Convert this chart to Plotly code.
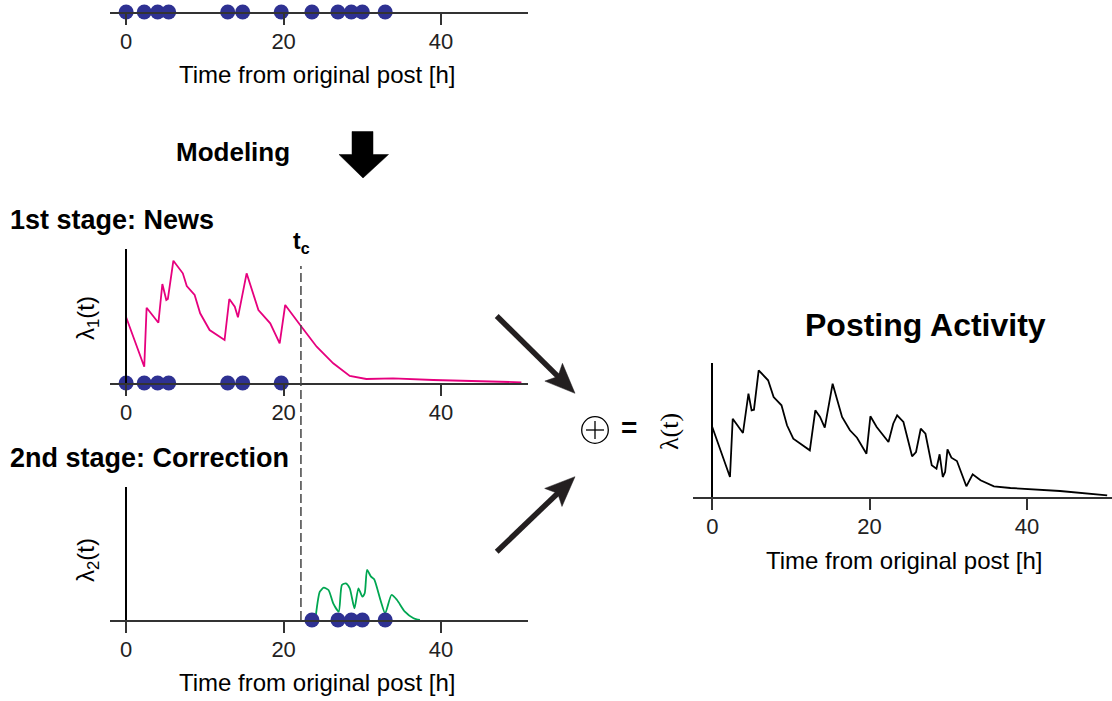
import plotly.graph_objects as go

W, H = 1112, 701

# ---------------- data ----------------
event_times = [0.0, 2.3, 4.0, 5.4, 12.9, 14.8, 19.7, 23.6, 26.9, 28.6, 30.0, 32.9]
t_c = 22.2
tick_vals = [0, 20, 40]
tick_text = ["0", "20", "40"]

lambda1_t = [0.0, 2.3, 2.6, 4.1, 4.6, 5.1, 5.3, 6.0, 7.2, 7.7, 8.7, 9.4, 10.6, 12.5, 13.1, 13.8, 14.2,
             15.3, 16.8, 18.3, 19.5, 20.2, 22.1, 24.2, 26.3, 28.4, 30.5, 33.9, 39.0, 50.2]
lambda1_v = [65.7, 16.3, 75.3, 60.3, 99.0, 83.0, 84.0, 122.3, 109.7, 97.0, 88.0, 69.7, 53.0, 43.0, 84.0, 76.3, 65.7,
             109.7, 73.0, 59.7, 39.7, 78.0, 58.0, 36.3, 19.7, 7.0, 4.0, 4.7, 3.0, 0.7]

lambda2_t = [24.1, 24.6, 25.1, 25.7, 26.3, 27.0, 27.4, 27.9, 28.4, 29.0, 29.5, 30.0, 30.3, 30.6, 31.1, 31.5,
             32.3, 32.9, 33.7, 34.4, 35.4, 36.5, 37.3]
lambda2_v = [5.0, 28.3, 32.3, 30.0, 16.7, 8.3, 35.0, 36.7, 31.7, 11.7, 31.7, 23.3, 26.7, 50.0, 43.3, 40.7,
             20.0, 6.7, 25.0, 20.0, 8.3, 1.7, 0.0]

lambda_t = [0.0, 2.25, 2.6, 3.9, 4.6, 5.0, 5.3, 5.9, 7.1, 7.8, 8.8, 9.5, 10.3, 12.4, 13.1, 13.7, 14.3, 15.3,
            16.5, 17.5, 18.4, 19.6, 20.1, 20.9, 22.4, 23.0, 23.5, 24.3, 25.4, 25.9, 26.5, 27.1, 27.9, 28.5,
            28.9, 29.3, 29.6, 29.9, 30.4, 31.1, 32.3, 33.1, 34.1, 35.8, 37.9, 44.2, 50.2]
lambda_v = [70.0, 20.0, 78.3, 64.0, 103.3, 86.7, 87.3, 126.7, 116.7, 100.0, 91.7, 71.7, 58.3, 46.7, 86.7, 80.0,
            69.3, 113.3, 80.0, 66.7, 59.3, 43.3, 80.7, 70.0, 55.0, 73.3, 81.7, 75.0, 40.7, 45.0, 68.3, 63.3,
            31.7, 28.3, 42.7, 20.0, 25.0, 47.7, 39.3, 36.0, 10.7, 22.7, 16.7, 10.7, 9.0, 6.0, 1.7]

news_events = [t for t in event_times if t < t_c]
corr_events = [t for t in event_times if t >= t_c]

# ---------------- style ----------------
DOT = "#2E3192"
MAGENTA = "#E6007E"
GREEN = "#00A651"
AX = "#333333"
FONT = "Liberation Sans, Arial, Helvetica, sans-serif"


def px(x):
    return x / W


def py(y):
    return 1 - y / H


left_range = [-2.05, 51.0]
left_dom = [px(110.0), px(527.7)]
right_range = [-2.5, 50.8]
right_dom = [px(692.6), px(1111.9)]


def zero_pos(dom, rng):
    return dom[0] + (0 - rng[0]) / (rng[1] - rng[0]) * (dom[1] - dom[0])


fig = go.Figure()

dot_marker = dict(size=15, color=DOT)
fig.add_trace(go.Scatter(x=event_times, y=[0] * len(event_times), mode="markers", marker=dot_marker,
                         xaxis="x", yaxis="y", cliponaxis=False, showlegend=False))

fig.add_trace(go.Scatter(x=lambda1_t, y=lambda1_v, mode="lines", line=dict(color=MAGENTA, width=1.8),
                         xaxis="x2", yaxis="y2", cliponaxis=False, showlegend=False))
fig.add_trace(go.Scatter(x=news_events, y=[0] * len(news_events), mode="markers", marker=dot_marker,
                         xaxis="x2", yaxis="y2", cliponaxis=False, showlegend=False))

fig.add_trace(go.Scatter(x=lambda2_t, y=lambda2_v, mode="lines",
                         line=dict(color=GREEN, width=1.8, shape="spline", smoothing=0.6),
                         xaxis="x3", yaxis="y3", cliponaxis=False, showlegend=False))
fig.add_trace(go.Scatter(x=corr_events, y=[0] * len(corr_events), mode="markers", marker=dot_marker,
                         xaxis="x3", yaxis="y3", cliponaxis=False, showlegend=False))

fig.add_trace(go.Scatter(x=lambda_t, y=lambda_v, mode="lines", line=dict(color="black", width=1.8),
                         xaxis="x4", yaxis="y4", cliponaxis=False, showlegend=False))


def xax(dom, rng, anchor):
    return dict(domain=dom, range=rng, anchor=anchor, showline=True, linecolor=AX, linewidth=1.5,
                ticks="outside", ticklen=11, tickwidth=1.5, tickcolor=AX, tickvals=tick_vals,
                ticktext=tick_text, tickfont=dict(family=FONT, size=22, color="#222"),
                ticklabelstandoff=-2,
                showgrid=False, zeroline=False, fixedrange=True)


def yax(dom, rng, xdom, xrng, visible=True):
    return dict(domain=dom, range=rng, anchor="free", position=zero_pos(xdom, xrng),
                showline=visible, linecolor="black", linewidth=1.5, ticks="", showticklabels=False,
                showgrid=False, zeroline=False, fixedrange=True)


fig.update_layout(
    width=W, height=H, margin=dict(l=0, r=0, t=0, b=0),
    paper_bgcolor="white", plot_bgcolor="rgba(0,0,0,0)",
    xaxis=xax(left_dom, left_range, "y"),
    yaxis=yax([py(12), py(2)], [0, 1], left_dom, left_range, visible=False),
    xaxis2=xax(left_dom, left_range, "y2"),
    yaxis2=yax([py(383), py(249)], [0, 134], left_dom, left_range),
    xaxis3=xax(left_dom, left_range, "y3"),
    yaxis3=yax([py(620), py(487)], [0, 133], left_dom, left_range),
    xaxis4=xax(right_dom, right_range, "y4"),
    yaxis4=yax([py(497), py(363)], [0, 134], right_dom, right_range),
    font=dict(family=FONT, color="black"),
)

# ---------------- annotations ----------------
anns = []


def text(x, y, s, size, xanchor="center", angle=0, bold=False, family=FONT):
    anns.append(dict(x=px(x), y=py(y), xref="paper", yref="paper", text=("<b>%s</b>" % s) if bold else s,
                     showarrow=False, xanchor=xanchor, yanchor="middle", textangle=angle,
                     font=dict(family=family, size=size, color="black")))


axis_title = "Time from original post [h]"
text(317, 74, axis_title, 24)
text(317, 682, axis_title, 24)
text(904, 560, axis_title, 24)
text(233, 152, "Modeling", 26, bold=True)
text(8, 220, "1st stage: News", 27, xanchor="left", bold=True)
text(8, 458, "2nd stage: Correction", 27, xanchor="left", bold=True)
text(301, 243, "t<sub>c</sub>", 23, bold=True)
text(925, 325, "Posting Activity", 32, bold=True)
text(629, 428, "=", 28, bold=True)
text(87, 318, "λ<sub>1</sub>(t)", 24, angle=-90)
text(87, 560, "λ<sub>2</sub>(t)", 24, angle=-90)
text(670, 432, "λ(t)", 26, angle=-90, family="Liberation Serif, serif")
fig.update_layout(annotations=anns)

# ---------------- shapes ----------------
shapes = []
# t_c dashed line across both stage panels
shapes.append(dict(type="line", xref="x2", yref="paper", x0=t_c, x1=t_c, y0=py(620), y1=py(266),
                   line=dict(color="#444", width=1.5, dash="9px,4px")))

# block down arrow
blk = [(352, 131.5), (373, 131.5), (373, 154.5), (388.5, 154.5), (363, 178), (339, 154.5), (352, 154.5)]
path = "M " + " L ".join("%f,%f" % (px(a), py(b)) for a, b in blk) + " Z"
shapes.append(dict(type="path", xref="paper", yref="paper", path=path, fillcolor="black",
                   line=dict(color="black", width=0.5)))


def arrow(tail, tip, L=30, w=12.5, notch=0.8, lw=5.5, color="#231F20"):
    dx, dy = tip[0] - tail[0], tip[1] - tail[1]
    n = (dx * dx + dy * dy) ** 0.5
    ux, uy = dx / n, dy / n
    nx, ny = -uy, ux
    back = (tip[0] - ux * L, tip[1] - uy * L)
    b1 = (back[0] + nx * w, back[1] + ny * w)
    b2 = (back[0] - nx * w, back[1] - ny * w)
    nt = (tip[0] - ux * L * notch, tip[1] - uy * L * notch)
    le = (tip[0] - ux * L * 0.6, tip[1] - uy * L * 0.6)
    shapes.append(dict(type="line", xref="paper", yref="paper", x0=px(tail[0]), y0=py(tail[1]),
                       x1=px(le[0]), y1=py(le[1]), line=dict(color=color, width=lw)))
    pts = [tip, b1, nt, b2]
    p = "M " + " L ".join("%f,%f" % (px(a), py(b)) for a, b in pts) + " Z"
    shapes.append(dict(type="path", xref="paper", yref="paper", path=p, fillcolor=color,
                       line=dict(color=color, width=0.5)))


arrow((496.7, 316), (575, 393.3))
arrow((496.7, 551.7), (575, 476.7))

# circled plus
shapes.append(dict(type="circle", xref="paper", yref="paper", x0=px(581.7), x1=px(608.3),
                   y0=py(443.3), y1=py(416.7), line=dict(color="black", width=1.3)))
shapes.append(dict(type="line", xref="paper", yref="paper", x0=px(586), x1=px(604), y0=py(430), y1=py(430),
                   line=dict(color="black", width=1.3)))
shapes.append(dict(type="line", xref="paper", yref="paper", x0=px(595), x1=px(595), y0=py(421), y1=py(439),
                   line=dict(color="black", width=1.3)))

fig.update_layout(shapes=shapes)

fig.write_html("out.html")
